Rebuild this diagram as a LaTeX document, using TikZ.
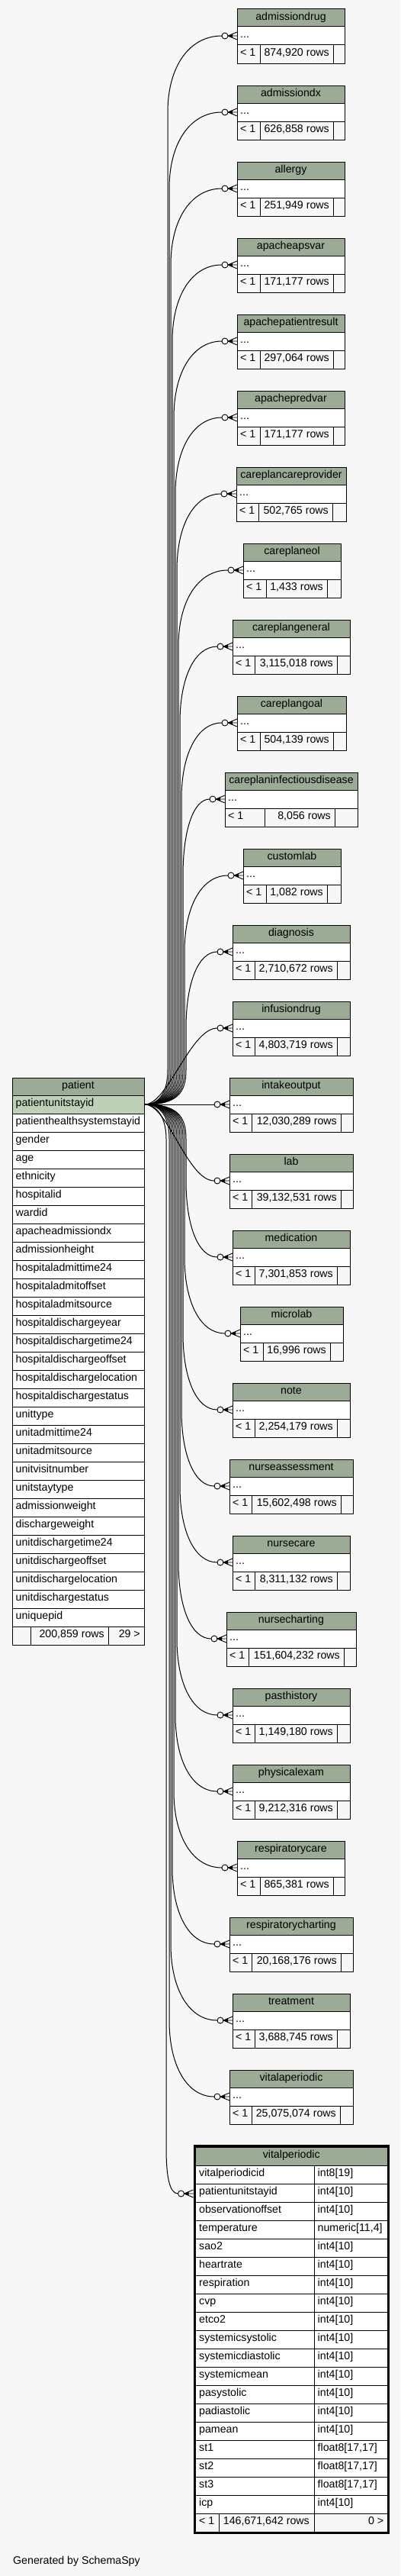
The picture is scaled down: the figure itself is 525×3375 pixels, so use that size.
\documentclass[tikz,border=0pt]{standalone}
\usepackage{fontspec}
\setmainfont{Liberation Sans}
\usetikzlibrary{calc}
\definecolor{bg}{HTML}{F7F7F7}
\definecolor{hdr}{HTML}{9BAB96}
\definecolor{keyc}{HTML}{BED1B8}
\tikzset{
  cell/.style={draw=black, line width=1pt},
  txt/.style={font=\fontsize{14.2}{17}\selectfont, inner sep=0pt, text=black},
  rel/.style={draw=black, line width=1pt},
}
\newcommand{\crowfoot}[1]{%
  \begin{scope}[shift={(#1)}]
    \draw[line width=0.9pt] (-12,0) -- (0,-5) (-12,0) -- (0,0) (-12,0) -- (0,5);
    \fill (-12,0) -- (-6,-2.5) -- (-6,2.5) -- cycle;
    \filldraw[line width=0.9pt, fill=bg] (-16,0) circle (4pt);
  \end{scope}}
% #1 id, #2 title, #3 left, #4 right, #5 div1, #6 div2, #7 top, #8 rows
\newcommand{\ctab}[8]{%
  \pgfmathsetmacro\tA{#7+23}%
  \pgfmathsetmacro\tB{#7+47}%
  \pgfmathsetmacro\tC{#7+71}%
  \pgfmathsetmacro\tM{(#3+#4)/2}%
  \pgfmathsetmacro\tH{#7+11.5}%
  \pgfmathsetmacro\tD{#7+35}%
  \pgfmathsetmacro\tF{#7+59}%
  \filldraw[cell, fill=hdr] (#3,#7) rectangle (#4,\tA);
  \filldraw[cell, fill=white] (#3,\tA) rectangle (#4,\tB);
  \filldraw[cell, fill=bg] (#3,\tB) rectangle (#5,\tC);
  \filldraw[cell, fill=bg] (#5,\tB) rectangle (#6,\tC);
  \filldraw[cell, fill=bg] (#6,\tB) rectangle (#4,\tC);
  \node[txt, anchor=mid] (#1-title) at (\tM,\tH) {#2};
  \node[txt, anchor=mid west] (#1-dots) at (#3+4,\tD) {...};
  \node[txt, anchor=mid west] (#1-lt) at (#3+4,\tF) {< 1};
  \node[txt, anchor=mid east] (#1-rows) at (#6-5,\tF) {#8 rows};
  \coordinate (#1-in) at (#3,\tD);
  \coordinate (#1-end) at (#3-20,\tD);
  \crowfoot{#1-in}}
% id, lane, cy
\newcommand{\upedge}[3]{%
  \draw[rel] (pk) .. controls (#2-12,1447) and (#2,1432) .. (#2,1402) -- (#2,#3+100)
    .. controls (#2,#3+40) and ($(#2,#3)!0.4!(#1-end)$) .. (#1-end);}
\newcommand{\downedge}[3]{%
  \draw[rel] (pk) .. controls (#2-12,1447) and (#2,1462) .. (#2,1492) -- (#2,#3-100)
    .. controls (#2,#3-40) and ($(#2,#3)!0.4!(#1-end)$) .. (#1-end);}
\begin{document}
\begin{tikzpicture}[x=1pt,y=-1pt]
\useasboundingbox (0,0) rectangle (525,3375);
\fill[bg] (0,0) rectangle (525,3375);

% ---------- patient table
\filldraw[cell, fill=hdr] (16,1412) rectangle (189,1435);
\node[txt, anchor=mid] (ptitle) at (102.5,1423.5) {patient};
\filldraw[cell, fill=keyc] (16,1435) rectangle (189,1459);
\node[txt, anchor=mid west] (prow0) at (20.5,1447) {patientunitstayid};
\foreach \n [count=\i from 1] in {patienthealthsystemstayid, gender, age, ethnicity, hospitalid, wardid, apacheadmissiondx, admissionheight, hospitaladmittime24, hospitaladmitoffset, hospitaladmitsource, hospitaldischargeyear, hospitaldischargetime24, hospitaldischargeoffset, hospitaldischargelocation, hospitaldischargestatus, unittype, unitadmittime24, unitadmitsource, unitvisitnumber, unitstaytype, admissionweight, dischargeweight, unitdischargetime24, unitdischargeoffset, unitdischargelocation, unitdischargestatus, uniquepid}{
  \pgfmathsetmacro\ya{1435+24*\i}
  \pgfmathsetmacro\yb{1459+24*\i}
  \pgfmathsetmacro\ym{1447+24*\i}
  \filldraw[cell, fill=white] (16,\ya) rectangle (189,\yb);
  \node[txt, anchor=mid west] (prow\i) at (20.5,\ym) {\n};
}
\filldraw[cell, fill=bg] (16,2131) rectangle (40,2155);
\filldraw[cell, fill=bg] (40,2131) rectangle (142,2155);
\filldraw[cell, fill=bg] (142,2131) rectangle (189,2155);
\node[txt, anchor=mid east] (prows) at (137,2143) {200,859 rows};
\node[txt, anchor=mid east] (pchild) at (184,2143) {29 >};
\coordinate (pk) at (190,1447);

% ---------- child tables
\ctab{admissiondrug}{admissiondrug}{311}{452}{341}{437}{12}{874,920}
\ctab{admissiondx}{admissiondx}{311}{452}{341}{437}{112}{626,858}
\ctab{allergy}{allergy}{311}{452}{341}{437}{212}{251,949}
\ctab{apacheapsvar}{apacheapsvar}{311}{452}{341}{437}{312}{171,177}
\ctab{apachepatientresult}{apachepatientresult}{311}{452}{341}{437}{412}{297,064}
\ctab{apachepredvar}{apachepredvar}{311}{452}{341}{437}{512}{171,177}
\ctab{careplancareprovider}{careplancareprovider}{310}{454}{339}{436}{612}{502,765}
\ctab{careplaneol}{careplaneol}{319}{447}{349}{429}{712}{1,433}
\ctab{careplangeneral}{careplangeneral}{305}{459}{334}{442}{812}{3,115,018}
\ctab{careplangoal}{careplangoal}{311}{454}{341}{437}{912}{504,139}
\ctab{careplaninfectiousdisease}{careplaninfectiousdisease}{295}{469}{347}{439}{1012}{8,056}
\ctab{customlab}{customlab}{319}{447}{349}{429}{1112}{1,082}
\ctab{diagnosis}{diagnosis}{305}{459}{334}{442}{1212}{2,710,672}
\ctab{infusiondrug}{infusiondrug}{305}{459}{334}{442}{1312}{4,803,719}
\ctab{intakeoutput}{intakeoutput}{301}{463}{330}{447}{1412}{12,030,289}
\ctab{lab}{lab}{301}{463}{330}{447}{1512}{39,132,531}
\ctab{medication}{medication}{305}{459}{334}{442}{1612}{7,301,853}
\ctab{microlab}{microlab}{315}{450}{345}{433}{1712}{16,996}
\ctab{note}{note}{305}{459}{334}{442}{1812}{2,254,179}
\ctab{nurseassessment}{nurseassessment}{301}{463}{330}{447}{1912}{15,602,498}
\ctab{nursecare}{nursecare}{305}{459}{334}{442}{2012}{8,311,132}
\ctab{nursecharting}{nursecharting}{297}{467}{326}{451}{2112}{151,604,232}
\ctab{pasthistory}{pasthistory}{305}{459}{334}{442}{2212}{1,149,180}
\ctab{physicalexam}{physicalexam}{305}{459}{334}{442}{2312}{9,212,316}
\ctab{respiratorycare}{respiratorycare}{311}{452}{341}{437}{2412}{865,381}
\ctab{respiratorycharting}{respiratorycharting}{301}{463}{330}{447}{2512}{20,168,176}
\ctab{treatment}{treatment}{305}{459}{334}{442}{2612}{3,688,745}
\ctab{vitalaperiodic}{vitalaperiodic}{301}{463}{330}{446}{2712}{25,075,074}

% ---------- focal table vitalperiodic
\filldraw[cell, fill=hdr] (256.5,2813) rectangle (508,2837);
\node[txt, anchor=mid] (vptitle) at (382.25,2825) {vitalperiodic};
\foreach \n/\ty [count=\i from 0] in {vitalperiodicid/{int8[19]}, patientunitstayid/{int4[10]}, observationoffset/{int4[10]}, temperature/{numeric[11,4]}, sao2/{int4[10]}, heartrate/{int4[10]}, respiration/{int4[10]}, cvp/{int4[10]}, etco2/{int4[10]}, systemicsystolic/{int4[10]}, systemicdiastolic/{int4[10]}, systemicmean/{int4[10]}, pasystolic/{int4[10]}, padiastolic/{int4[10]}, pamean/{int4[10]}, st1/{float8[17,17]}, st2/{float8[17,17]}, st3/{float8[17,17]}, icp/{int4[10]}}{
  \pgfmathsetmacro\ya{2837+24*\i}
  \pgfmathsetmacro\yb{2861+24*\i}
  \pgfmathsetmacro\ym{2849+24*\i}
  \filldraw[cell, fill=white] (256.5,\ya) rectangle (412,\yb);
  \filldraw[cell, fill=white] (412,\ya) rectangle (508,\yb);
  \node[txt, anchor=mid west] (vpn\i) at (261,\ym) {\n};
  \node[txt, anchor=mid west] (vpt\i) at (416.5,\ym) {\ty};
}
\filldraw[cell, fill=bg] (256.5,3293) rectangle (287,3317);
\filldraw[cell, fill=bg] (287,3293) rectangle (412,3317);
\filldraw[cell, fill=bg] (412,3293) rectangle (508,3317);
\node[txt, anchor=mid west] (vplt) at (261,3305) {< 1};
\node[txt, anchor=mid east] (vprows) at (406,3305) {146,671,642 rows};
\node[txt, anchor=mid east] (vpchild) at (503.5,3305) {0 >};
\draw[line width=3pt] (255,2811.7) rectangle (509.5,3318.5);
\coordinate (vp-in) at (253.5,2874);
\coordinate (vp-end) at (233.5,2874);
\crowfoot{vp-in}

% ---------- relationships
\upedge{admissiondrug}{220}{47}
\upedge{admissiondx}{222}{147}
\upedge{allergy}{224}{247}
\upedge{apacheapsvar}{226}{347}
\upedge{apachepatientresult}{228}{447}
\upedge{apachepredvar}{230}{547}
\upedge{careplancareprovider}{232}{647}
\upedge{careplaneol}{234}{747}
\upedge{careplangeneral}{236}{847}
\upedge{careplangoal}{238}{947}
\upedge{careplaninfectiousdisease}{240}{1047}
\upedge{customlab}{242}{1147}
\upedge{diagnosis}{244}{1247}
\draw[rel] (pk) .. controls (220,1447) and (250,1347) .. (infusiondrug-end);
\draw[rel] (pk) -- (intakeoutput-end);
\draw[rel] (pk) .. controls (220,1447) and (246,1547) .. (lab-end);
\downedge{medication}{244}{1647}
\downedge{microlab}{242}{1747}
\downedge{note}{240}{1847}
\downedge{nurseassessment}{238}{1947}
\downedge{nursecare}{236}{2047}
\downedge{nursecharting}{234}{2147}
\downedge{pasthistory}{232}{2247}
\downedge{physicalexam}{230}{2347}
\downedge{respiratorycare}{228}{2447}
\downedge{respiratorycharting}{226}{2547}
\downedge{treatment}{224}{2647}
\downedge{vitalaperiodic}{222}{2747}
\draw[rel] (pk) .. controls (204,1447) and (218,1462) .. (218,1492) -- (218,2814)
  .. controls (218,2850) and (222,2874) .. (vp-end);

% ---------- footer
\node[txt, anchor=mid west] (gen) at (17,3357) {Generated by SchemaSpy};
\end{tikzpicture}
\end{document}
